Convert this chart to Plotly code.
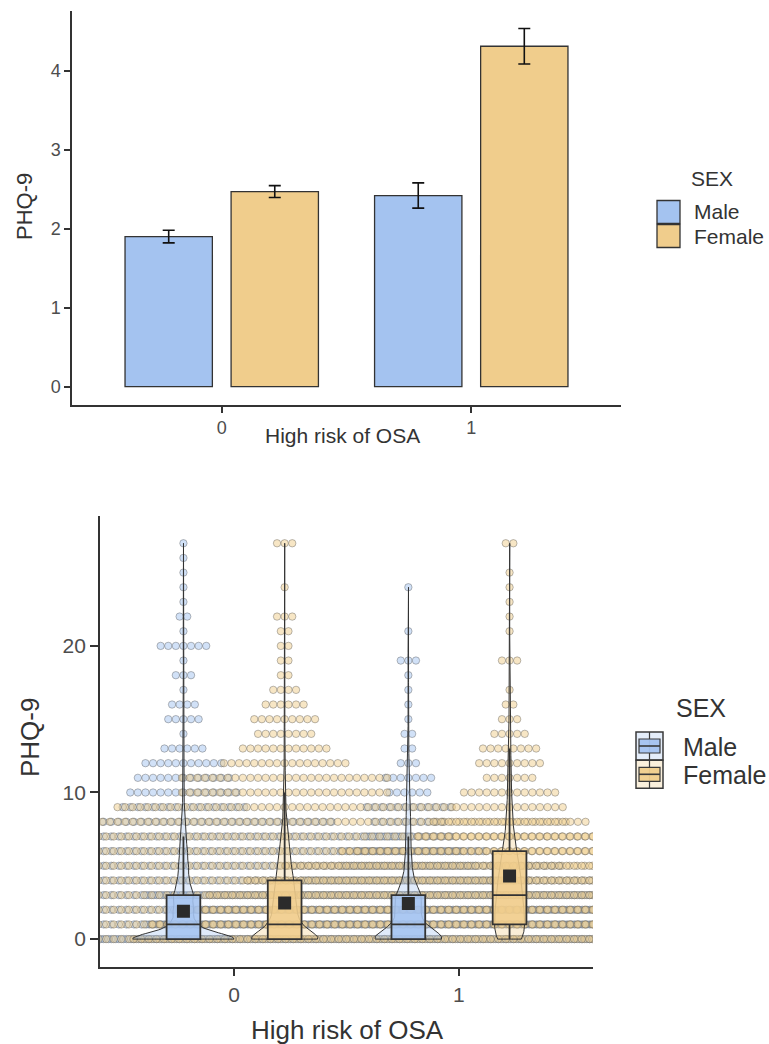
import numpy as np
import plotly.graph_objects as go

# ---------------- data ----------------
risk_groups = ["0", "1"]            # High risk of OSA
sexes = ["Male", "Female"]

# Panel 1: mean PHQ-9 (bars) with standard-error bars
male_mean = [1.90, 2.42]
female_mean = [2.47, 4.31]
male_se = [0.08, 0.16]
female_se = [0.075, 0.225]

# Panel 2: number of participants at each PHQ-9 score (0..27)
phq_scores = list(range(28))
male_osa0_counts = [1100, 240, 200, 200, 120, 100, 80, 60, 40, 17, 15, 13, 11, 6,
                    1, 5, 4, 1, 3, 1, 7, 1, 2, 1, 1, 1, 1, 1]
female_osa0_counts = [1500, 600, 450, 400, 350, 250, 200, 150, 75, 45, 28, 28, 17, 12,
                      8, 9, 6, 4, 2, 2, 2, 2, 3, 0, 1, 0, 0, 3]
male_osa1_counts = [220, 70, 60, 70, 28, 18, 14, 12, 10, 12, 6, 7, 3, 2,
                    2, 1, 1, 1, 1, 3, 0, 1, 0, 0, 1, 0, 0, 0]
female_osa1_counts = [100, 95, 85, 80, 70, 60, 45, 25, 21, 15, 13, 7, 9, 8,
                      5, 3, 2, 1, 0, 3, 0, 1, 1, 1, 1, 1, 0, 2]

# Box-plot statistics (order: Male/0, Female/0, Male/1, Female/1)
box_q1 = [0, 0, 0, 1]
box_median = [1, 1, 1, 3]
box_q3 = [3, 4, 3, 6]

# ---------------- styles ----------------
FONT = "Liberation Sans, Arial, sans-serif"
W, H = 769, 1044
fill_rgb = {"Male": (164, 195, 240), "Female": (240, 205, 140)}
AX = "#333333"
TICKC = "#4d4d4d"
TITLEC = "#333333"
X2_RANGE = [-0.596, 1.596]
Y2_RANGE = [-1.87, 28.86]


def rgba(sex, a):
    r, g, b = fill_rgb[sex]
    return f"rgba({r},{g},{b},{a})"


def px(xp):
    return xp / W


def py(yp):
    return 1 - yp / H


fig = go.Figure()

# ---------------- Panel 1: bars ----------------
bar_dodge = 0.2125
bar_width = 0.35
for sex, means, ses, off in [("Male", male_mean, male_se, -bar_dodge),
                             ("Female", female_mean, female_se, bar_dodge)]:
    fig.add_trace(go.Bar(
        x=[i + off for i in range(len(risk_groups))], y=means, width=bar_width,
        marker=dict(color=rgba(sex, 1), line=dict(color=AX, width=1.3)),
        error_y=dict(type="data", array=ses, color="#111111", thickness=1.6, width=6),
        xaxis="x", yaxis="y", showlegend=False, name=sex))

# ---------------- Panel 2: dots, violins, boxes ----------------
dodge = 0.225
step = 7.6 / 225.0   # dot spacing in x data units
groups = [("Male", 0, -dodge, male_osa0_counts, male_mean[0]),
          ("Female", 0, dodge, female_osa0_counts, female_mean[0]),
          ("Male", 1, -dodge, male_osa1_counts, male_mean[1]),
          ("Female", 1, dodge, female_osa1_counts, female_mean[1])]

# dots (males drawn first, females on top)
for sex_order in sexes:
    for sex, gi, off, counts, _ in groups:
        if sex != sex_order:
            continue
        cx = gi + off
        xs, ys = [], []
        for v, n in zip(phq_scores, counts):
            if n <= 0:
                continue
            pos = cx + (np.arange(n) - (n - 1) / 2.0) * step
            pos = pos[(pos > -0.65) & (pos < 1.65)]
            xs.extend(pos.tolist())
            ys.extend([v] * len(pos))
        fig.add_trace(go.Scatter(
            x=xs, y=ys, mode="markers", xaxis="x2", yaxis="y2", showlegend=False,
            marker=dict(size=7.4, color=rgba(sex, 0.5),
                        line=dict(color="rgba(70,70,70,0.36)", width=1)),
            hoverinfo="skip"))

# violins (gaussian KDE, area-scaled, trimmed)
scores = np.array(phq_scores, dtype=float)
dens_list = []
for sex, gi, off, counts, _ in groups:
    c = np.array(counts, dtype=float)
    N = c.sum()
    data = np.repeat(scores, c.astype(int))
    sd = data.std(ddof=1)
    iqr = np.percentile(data, 75) - np.percentile(data, 25)
    bw = 0.9 * min(sd, iqr / 1.34) * N ** (-0.2)
    lo, hi = data.min(), data.max()
    grid = np.linspace(lo, hi, 512)
    dens = (c[None, :] * np.exp(-0.5 * ((grid[:, None] - scores[None, :]) / bw) ** 2)).sum(1)
    dens = dens / (N * bw * np.sqrt(2 * np.pi))
    dens_list.append((grid, dens))
dmax = max(d.max() for _, d in dens_list)
for (sex, gi, off, counts, _), (grid, dens) in zip(groups, dens_list):
    cx = gi + off
    hw = dens / dmax * 0.225
    vx = np.concatenate([cx + hw, (cx - hw)[::-1], [cx + hw[0]]])
    vy = np.concatenate([grid, grid[::-1], [grid[0]]])
    fig.add_trace(go.Scatter(
        x=vx, y=vy, mode="lines", fill="toself", fillcolor=rgba(sex, 0.35),
        line=dict(color=AX, width=1), xaxis="x2", yaxis="y2",
        showlegend=False, hoverinfo="skip"))

# boxes + mean squares (on an overlaid copy of the axes so they sit above the dots)
for k, (sex, gi, off, counts, mean) in enumerate(groups):
    cx = gi + off
    q1, med, q3 = box_q1[k], box_median[k], box_q3[k]
    data_vals = [s for s, n in zip(phq_scores, counts) if n > 0]
    upper = max(v for v in data_vals if v <= q3 + 1.5 * (q3 - q1))
    lower = min(v for v in data_vals if v >= q1 - 1.5 * (q3 - q1))
    fig.add_trace(go.Box(
        x=[cx], q1=[q1], median=[med], q3=[q3], lowerfence=[lower], upperfence=[upper],
        width=0.15, fillcolor=rgba(sex, 0.88), line=dict(color=AX, width=1.8),
        whiskerwidth=0, boxpoints=False, xaxis="x3", yaxis="y3", showlegend=False,
        hoverinfo="skip"))
for k, (sex, gi, off, counts, mean) in enumerate(groups):
    fig.add_trace(go.Scatter(
        x=[gi + off], y=[mean], mode="markers", xaxis="x3", yaxis="y3", showlegend=False,
        marker=dict(symbol="square", size=13, color="#2b2b2b"), hoverinfo="skip"))


# ---------------- axes ----------------
def axis(size, lw, tl, **kw):
    d = dict(showgrid=False, zeroline=False, showline=True, linecolor=AX,
             linewidth=lw, ticks="outside", tickcolor=AX, tickwidth=lw, ticklen=tl,
             tickfont=dict(family=FONT, color=TICKC, size=size))
    d.update(kw)
    return d


fig.update_layout(
    width=W, height=H, autosize=False, margin=dict(l=0, r=0, t=0, b=0, pad=0),
    paper_bgcolor="white", plot_bgcolor="white", showlegend=False,
    barmode="overlay", boxmode="overlay",
    font=dict(family=FONT, color=TITLEC),
    xaxis=axis(18, 1.5, 6, domain=[px(72), px(621)], range=[-0.6, 1.6], anchor="y",
               tickvals=[0, 1], ticktext=risk_groups),
    yaxis=axis(18, 1.5, 6, domain=[py(405), py(10.7)], range=[-0.232, 4.76], anchor="x",
               tickvals=[0, 1, 2, 3, 4]),
    xaxis2=axis(21, 1.8, 8, domain=[px(100), px(593)], range=X2_RANGE, anchor="y2",
                tickvals=[0, 1], ticktext=risk_groups),
    yaxis2=axis(21, 1.8, 8, domain=[py(966.5), py(516)], range=Y2_RANGE, anchor="x2",
                tickvals=[0, 10, 20]),
    xaxis3=dict(overlaying="x2", anchor="y3", range=X2_RANGE, visible=False,
                showgrid=False, zeroline=False),
    yaxis3=dict(overlaying="y2", anchor="x3", range=Y2_RANGE, visible=False,
                showgrid=False, zeroline=False),
)

ann = []


def text(t, x, y, size, angle=0, xanchor="center", color=TITLEC):
    ann.append(dict(text=t, x=px(x), y=py(y), xref="paper", yref="paper",
                    showarrow=False, xanchor=xanchor, yanchor="middle",
                    textangle=angle, font=dict(family=FONT, size=size, color=color)))


text("High risk of OSA", 342, 436, 21)
text("PHQ-9", 24, 207, 22, angle=-90)
text("High risk of OSA", 347.5, 1030, 26)
text("PHQ-9", 30, 738, 26, angle=-90)

# ---------------- legends (manual) ----------------
shapes = []
# top legend
text("SEX", 689, 178.5, 21, xanchor="left")
for i, sex in enumerate(sexes):
    y0 = 200.5 + i * 24
    shapes.append(dict(type="rect", xref="paper", yref="paper",
                       x0=px(657), x1=px(680), y0=py(y0 + 23), y1=py(y0),
                       fillcolor=rgba(sex, 1), line=dict(color=AX, width=1.3)))
    text(sex, 692, y0 + 11.5, 21, xanchor="left")

# bottom legend
text("SEX", 674, 707.5, 25, xanchor="left")
for i, sex in enumerate(sexes):
    y0 = 732 + i * 28.3
    y1 = y0 + 28
    x0, x1 = 636, 663
    xm = (x0 + x1) / 2
    ym = (y0 + y1) / 2
    shapes.append(dict(type="rect", xref="paper", yref="paper",
                       x0=px(x0), x1=px(x1), y0=py(y1), y1=py(y0),
                       fillcolor=rgba(sex, 0.3), line=dict(color="#3a3a3a", width=1.5)))
    shapes.append(dict(type="line", xref="paper", yref="paper",
                       x0=px(xm), x1=px(xm), y0=py(y1), y1=py(y0),
                       line=dict(color="#3a3a3a", width=1.2)))
    shapes.append(dict(type="rect", xref="paper", yref="paper",
                       x0=px(x0 + 3), x1=px(x1 - 3), y0=py(y1 - 7), y1=py(y0 + 7),
                       fillcolor=rgba(sex, 0.95), line=dict(color="#3a3a3a", width=1.2)))
    shapes.append(dict(type="line", xref="paper", yref="paper",
                       x0=px(x0 + 3), x1=px(x1 - 3), y0=py(ym), y1=py(ym),
                       line=dict(color="#3a3a3a", width=1.6)))
    text(sex, 681, ym + 0.5, 25, xanchor="left")

fig.update_layout(annotations=ann, shapes=shapes)
fig.write_html("out.html", config={"displayModeBar": False},
               post_script="document.body.style.margin='0px';document.body.style.padding='0px';")
